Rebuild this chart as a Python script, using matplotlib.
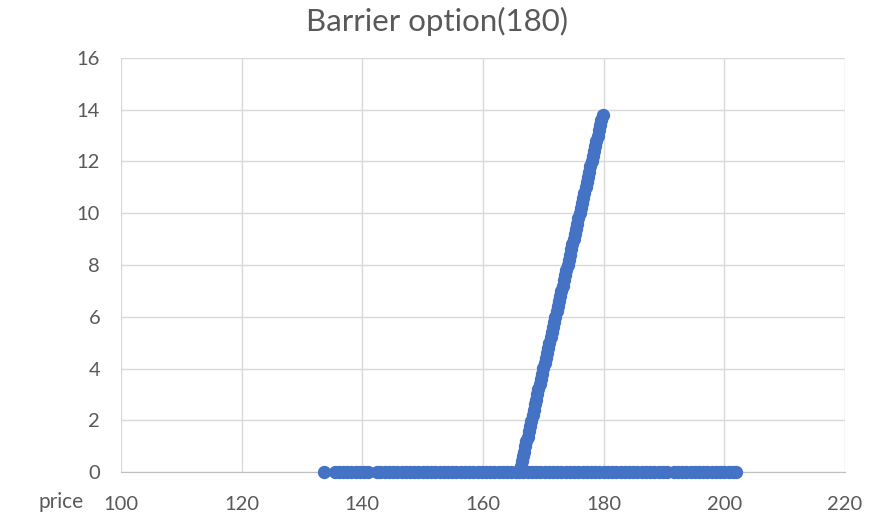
import matplotlib.pyplot as plt

# knock-out call, barrier 180 -- simulated terminal prices and payoffs
price_dead = [133.6, 135.4, 136.1, 136.8, 137.5, 138.2, 138.9, 139.6, 140.3,
              141.0, 142.4, 143.0, 143.7, 144.4, 145.1, 145.8, 146.5, 147.2,
              147.9, 148.6, 149.3, 150.0, 150.7, 151.4, 152.1, 152.8, 153.5,
              154.2, 154.9, 155.6, 156.3, 157.0, 157.7, 158.4, 159.1, 159.8,
              160.5, 161.2, 161.9, 162.6, 163.3, 164.0, 164.7, 165.4, 166.0,
              166.7, 167.4, 168.1, 168.8, 169.5, 170.2, 170.9, 171.6, 172.3,
              173.0, 173.7, 174.4, 175.1, 175.8, 176.5, 177.2, 177.9, 178.6,
              179.3, 180.0, 180.7, 181.4, 182.1, 182.8, 183.5, 184.2, 184.9,
              185.6, 186.3, 187.0, 187.7, 188.4, 189.1, 189.8, 190.5, 191.6,
              192.3, 193.0, 193.7, 194.4, 195.1, 195.8, 196.4, 197.2, 197.9,
              198.6, 199.3, 200.0, 200.7, 201.4, 202.0]
payoff_dead = [0.0] * len(price_dead)

price_live = [166.05, 166.22, 166.41, 166.6, 166.78, 166.99, 167.18, 167.37,
              167.6, 167.79, 167.98, 168.2, 168.39, 168.61, 168.8, 169.02,
              169.19, 169.4, 169.61, 169.8, 170.01, 170.2, 170.42, 170.6,
              170.81, 171.0, 171.2, 171.41, 171.62, 171.8, 172.0, 172.21,
              172.4, 172.6, 172.79, 173.0, 173.2, 173.41, 173.6, 173.8, 174.01,
              174.2, 174.4, 174.61, 174.8, 175.0, 175.21, 175.4, 175.6, 175.8,
              176.0, 176.21, 176.4, 176.6, 176.8, 177.0, 177.2, 177.4, 177.6,
              177.81, 178.0, 178.2, 178.4, 178.6, 178.8, 179.0, 179.2, 179.4,
              179.6, 179.8]
payoff_live = [0.05, 0.22, 0.41, 0.6, 0.78, 0.99, 1.18, 1.37, 1.6, 1.79, 1.98,
               2.2, 2.39, 2.61, 2.8, 3.02, 3.19, 3.4, 3.61, 3.8, 4.01, 4.2,
               4.42, 4.6, 4.81, 5.0, 5.2, 5.41, 5.62, 5.8, 6.0, 6.21, 6.4, 6.6,
               6.79, 7.0, 7.2, 7.41, 7.6, 7.8, 8.01, 8.2, 8.4, 8.61, 8.8, 9.0,
               9.21, 9.4, 9.6, 9.8, 10.0, 10.21, 10.4, 10.6, 10.8, 11.0, 11.2,
               11.4, 11.6, 11.81, 12.0, 12.2, 12.4, 12.6, 12.8, 13.0, 13.2,
               13.4, 13.6, 13.8]

x_ticks = [100, 120, 140, 160, 180, 200, 220]
y_ticks = [0, 2, 4, 6, 8, 10, 12, 14, 16]

txt = '#595959'
blue = '#4472C4'

plt.rcParams['font.family'] = ['Lato', 'DejaVu Sans']

fig = plt.figure(figsize=(8.73, 5.21), dpi=100)
ax = fig.add_axes([0.1386, 0.094, 0.8294, 0.7947])

ax.scatter(price_dead + price_live, payoff_dead + payoff_live, s=92,
           color=blue, linewidths=0, zorder=3, clip_on=False)

ax.set_xlim(100, 220)
ax.set_ylim(0, 16)
ax.set_xticks(x_ticks)
ax.set_yticks(y_ticks)
ax.grid(True, color='#d9d9d9', linewidth=1)
ax.set_axisbelow(True)
for side in ['top', 'right', 'left']:
    ax.spines[side].set_visible(False)
ax.spines['bottom'].set_color('#bfbfbf')
ax.tick_params(length=0, labelsize=14.5, labelcolor=txt)
ax.tick_params(axis='x', pad=17)
ax.tick_params(axis='y', pad=15)

fig.text(0.5, 0.958, 'Barrier option(180)', fontsize=22.5, color=txt,
         ha='center', va='center')
fig.text(0.07, 0.036, 'price', fontsize=15, color=txt, ha='center', va='center')

fig.savefig('out.png', dpi=100)
